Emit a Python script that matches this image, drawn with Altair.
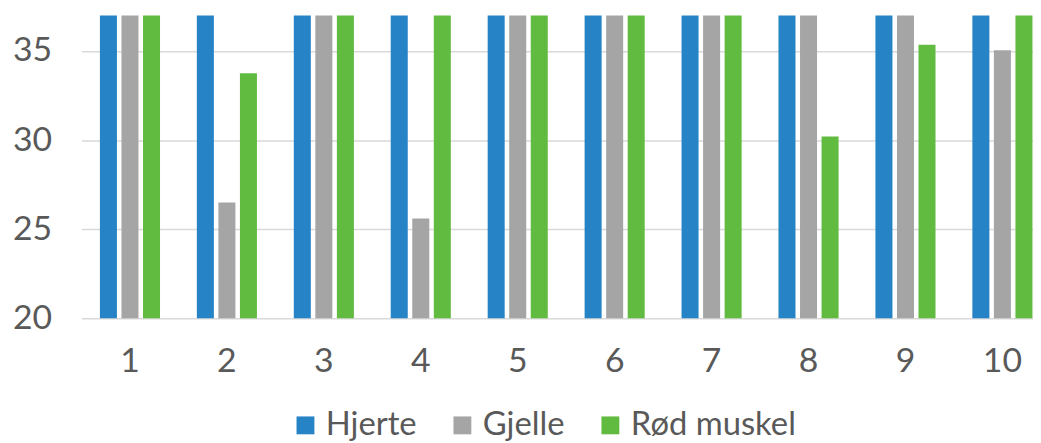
import altair as alt
import pandas as pd

samples = ["1", "2", "3", "4", "5", "6", "7", "8", "9", "10"]
series = ["Hjerte", "Gjelle", "Rød muskel"]
hjerte = [40, 40, 40, 40, 40, 40, 40, 40, 40, 40]
gjelle = [40, 26.5, 40, 25.6, 40, 40, 40, 40, 40, 35.05]
rod_muskel = [40, 33.75, 40, 40, 40, 40, 40, 30.2, 35.35, 40]
colors = ["#2683C6", "#A5A5A5", "#62BB41"]
y_ticks = [20, 25, 30, 35]

rows = []
for name, vals in zip(series, [hjerte, gjelle, rod_muskel]):
    for s, v in zip(samples, vals):
        rows.append({"Prøve": s, "Serie": name, "Verdi": v})
df = pd.DataFrame(rows)

FONT = "Lato"
TXT = "#595959"

chart = alt.Chart(df).mark_bar(clip=True).encode(
    x=alt.X("Prøve:N", sort=samples,
            scale=alt.Scale(paddingInner=0.38, paddingOuter=0.19, range=[0, 976]),
            axis=alt.Axis(title=None, labelAngle=0, ticks=False, domain=False,
                          labelFont=FONT, labelFontSize=34, labelColor=TXT,
                          labelPadding=27)),
    xOffset=alt.XOffset("Serie:N", sort=series,
                        scale=alt.Scale(paddingInner=0.21, paddingOuter=0)),
    y=alt.Y("Verdi:Q", scale=alt.Scale(domain=[20, 37], nice=False, zero=False),
            axis=alt.Axis(title=None, values=y_ticks, ticks=False, domain=False,
                          grid=True, gridColor="#D9D9D9", gridWidth=1.5,
                          labelFont=FONT, labelFontSize=34, labelColor=TXT,
                          labelPadding=30)),
    color=alt.Color("Serie:N", sort=series,
                    scale=alt.Scale(domain=series, range=colors),
                    legend=alt.Legend(title=None, orient="none", direction="horizontal",
                                      legendX=209, legendY=396,
                                      symbolType="square", symbolSize=324,
                                      symbolStrokeWidth=0, labelLimit=400,
                                      labelFont=FONT, labelFontSize=33, labelColor=TXT,
                                      labelOffset=4, columnPadding=29)),
).properties(
    width=958, height=305,
    autosize=alt.AutoSizeParams(type="none"),
    padding={"left": 74, "top": 6, "right": 0, "bottom": 122},
).configure_view(stroke=None)

chart.save("out.html", embed_options={"renderer": "svg", "actions": False})
